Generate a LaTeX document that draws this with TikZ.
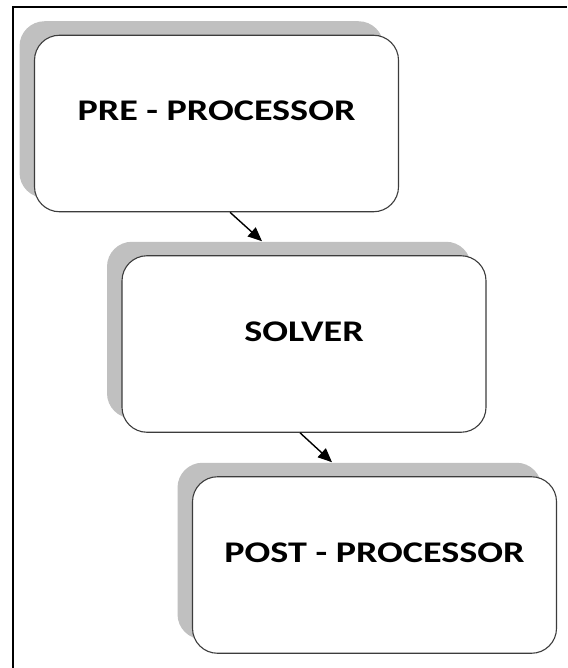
\documentclass[tikz,border=0pt]{standalone}
\usepackage{fontspec}
\usepackage{graphicx}
\usetikzlibrary{shadows,arrows.meta}
\newfontfamily\boxfont{Carlito}
\definecolor{shadowgray}{HTML}{C0C0C0}
\definecolor{edgegray}{HTML}{3C3C3C}
\newcommand{\boxtext}[1]{\scalebox{1.27}[1]{\boxfont\bfseries\fontsize{30}{36}\selectfont #1}}
\begin{document}
\begin{tikzpicture}[x=1pt,y=-1pt,
  stagebox/.style={draw=edgegray, line width=1.1pt, fill=white,
    rounded corners=25pt, inner sep=0pt, minimum width=364pt,
    text height=85.5pt, text depth=91pt, align=center,
    general shadow={fill=shadowgray, shadow xshift=-15pt, shadow yshift=14pt}},
  flow/.style={line width=1.4pt, -{Triangle[length=14pt,width=12pt]}},
  frameline/.style={line width=2pt, black}]
  \useasboundingbox[fill=white] (0,0) rectangle (567,668);
  % frame
  \draw[frameline] (13,668) -- (13,6.7) -- (567,6.7);
  % stages
  \node[stagebox] (pre) at (216.5,123.5) {\boxtext{PRE - PROCESSOR}};
  \node[stagebox] (sol) at (304,344) {\boxtext{SOLVER}};
  \node[stagebox] (post) at (374.5,565) {\boxtext{POST - PROCESSOR}};
  % connectors
  \draw[flow] ([xshift=13.5pt]pre.south) -- ([xshift=-42pt,yshift=14pt]sol.north);
  \draw[flow] ([xshift=-4pt]sol.south) -- ([xshift=-42.5pt,yshift=14pt]post.north);
\end{tikzpicture}
\end{document}
